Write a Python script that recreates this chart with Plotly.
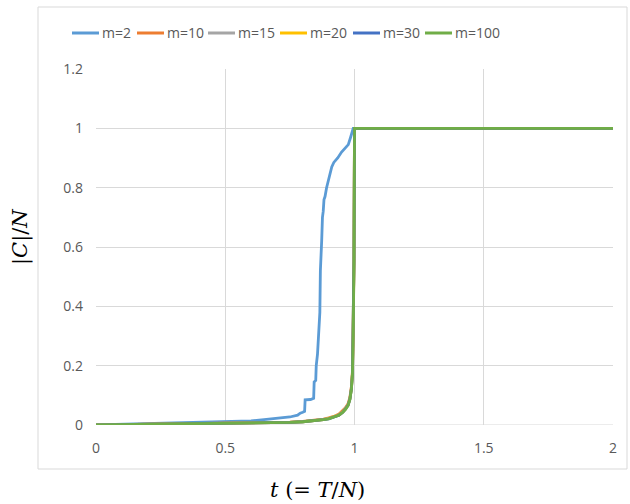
import plotly.graph_objects as go

# Giant-component fraction |C|/N versus normalised time t = T/N
t_m2 = [0.0, 0.1, 0.2, 0.3, 0.4, 0.5, 0.6, 0.65, 0.7, 0.75, 0.78, 0.79, 0.80, 0.807,
        0.809, 0.83, 0.842, 0.844, 0.85, 0.852, 0.857, 0.860, 0.863, 0.866, 0.868,
        0.870, 0.873, 0.876, 0.879, 0.882, 0.886, 0.892, 0.898, 0.905, 0.912, 0.92,
        0.935, 0.95, 0.965, 0.976, 0.985, 0.995, 1.0, 2.0]
c_m2 = [0.0, 0.002, 0.004, 0.006, 0.008, 0.010, 0.014, 0.018, 0.022, 0.027, 0.033, 0.040,
        0.043, 0.046, 0.085, 0.086, 0.090, 0.145, 0.150, 0.200, 0.240, 0.290, 0.370,
        0.380, 0.520, 0.610, 0.620, 0.700, 0.720, 0.760, 0.770, 0.800, 0.820, 0.840,
        0.870, 0.885, 0.900, 0.920, 0.935, 0.945, 0.970, 1.0, 1.0, 1.0]

t_big = [0.0, 0.1, 0.2, 0.3, 0.4, 0.5, 0.6, 0.7, 0.75, 0.8, 0.85, 0.88, 0.9, 0.92,
         0.94, 0.955, 0.965, 0.975, 0.982, 0.988, 0.992, 0.995, 0.998, 1.0, 2.0]
c_m10 = [0.0, 0.001, 0.002, 0.003, 0.004, 0.005, 0.007, 0.009, 0.010, 0.012, 0.016, 0.020,
         0.024, 0.029, 0.037, 0.048, 0.058, 0.072, 0.092, 0.13, 0.18, 0.31, 0.56, 1.0, 1.0]
c_m15 = [0.0, 0.001, 0.002, 0.003, 0.004, 0.005, 0.006, 0.008, 0.009, 0.011, 0.015, 0.019,
         0.022, 0.027, 0.034, 0.045, 0.055, 0.068, 0.088, 0.125, 0.175, 0.305, 0.555, 1.0, 1.0]
c_m20 = [0.0, 0.001, 0.002, 0.003, 0.004, 0.005, 0.006, 0.008, 0.009, 0.011, 0.014, 0.018,
         0.022, 0.027, 0.034, 0.044, 0.054, 0.067, 0.087, 0.122, 0.172, 0.302, 0.552, 1.0, 1.0]
c_m30 = [0.0, 0.001, 0.002, 0.003, 0.004, 0.005, 0.006, 0.008, 0.009, 0.011, 0.014, 0.018,
         0.021, 0.026, 0.033, 0.043, 0.053, 0.066, 0.086, 0.121, 0.171, 0.301, 0.551, 1.0, 1.0]
c_m100 = [0.0, 0.001, 0.002, 0.003, 0.004, 0.005, 0.006, 0.008, 0.009, 0.011, 0.014, 0.018,
          0.021, 0.026, 0.033, 0.043, 0.052, 0.065, 0.085, 0.120, 0.170, 0.300, 0.550, 1.0, 1.0]

series = [
    ("m=2", t_m2, c_m2, "#5B9BD5"),
    ("m=10", t_big, c_m10, "#ED7D31"),
    ("m=15", t_big, c_m15, "#A5A5A5"),
    ("m=20", t_big, c_m20, "#FFC000"),
    ("m=30", t_big, c_m30, "#4472C4"),
    ("m=100", t_big, c_m100, "#70AD47"),
]

x_ticks = [0, 0.5, 1, 1.5, 2]
x_tick_text = ["0", "0.5", "1", "1.5", "2"]
y_ticks = [0, 0.2, 0.4, 0.6, 0.8, 1.0, 1.2]
y_tick_text = ["0", "0.2", "0.4", "0.6", "0.8", "1", "1.2"]

fig = go.Figure()
for name, xs, ys, col in series:
    fig.add_trace(go.Scatter(x=xs, y=ys, name=name, mode="lines",
                             line=dict(color=col, width=2.8), showlegend=False))

W, H = 630, 504
L, R, T, B = 96, 17, 69, 79
pw, ph = W - L - R, H - T - B


def px_x(p):
    return (p - L) / pw


def px_y(p):
    return (H - B - p) / ph


tick_font = dict(family="Open Sans, Liberation Sans, sans-serif", size=14, color="#595959")

shapes = [
    dict(type="rect", xref="paper", yref="paper",
         x0=px_x(38), x1=px_x(627), y0=px_y(469), y1=px_y(7),
         line=dict(color="#D9D9D9", width=1), layer="below"),
    dict(type="line", xref="x", yref="y", x0=0, x1=2, y0=0, y1=0,
         line=dict(color="#D9D9D9", width=1), layer="below"),
]
annotations = [
    dict(text="<i>t</i> (= <i>T</i>/<i>N</i>)", xref="paper", yref="paper",
         x=px_x(317), y=px_y(490), xanchor="center", yanchor="middle", showarrow=False,
         font=dict(family="DejaVu Serif, serif", size=21, color="black")),
    dict(text="|<i>C</i>|/<i>N</i>", xref="paper", yref="paper",
         x=px_x(20), y=px_y(237), xanchor="center", yanchor="middle", showarrow=False,
         textangle=-90,
         font=dict(family="DejaVu Serif, serif", size=21, color="black")),
]

# Legend row along the top: a short coloured line followed by the series name
legend_y = 33
legend_x0 = [72, 137, 208, 280, 353, 425]
for (name, _, _, col), lx in zip(series, legend_x0):
    shapes.append(dict(type="line", xref="paper", yref="paper",
                       x0=px_x(lx), x1=px_x(lx + 27), y0=px_y(legend_y), y1=px_y(legend_y),
                       line=dict(color=col, width=3)))
    annotations.append(dict(text=name, xref="paper", yref="paper",
                            x=px_x(lx + 28), y=px_y(legend_y), xanchor="left", yanchor="middle",
                            showarrow=False,
                            font=dict(family="Open Sans, Liberation Sans, sans-serif",
                                      size=14, color="#595959")))

fig.update_layout(
    width=W, height=H,
    margin=dict(l=L, r=R, t=T, b=B),
    paper_bgcolor="white", plot_bgcolor="white",
    showlegend=False,
    xaxis=dict(range=[0, 2], tickvals=x_ticks, ticktext=x_tick_text, showgrid=True,
               gridcolor="#D9D9D9", gridwidth=1, zeroline=False, showline=False,
               ticks="", tickfont=tick_font, ticklabelstandoff=13),
    yaxis=dict(range=[0, 1.2], tickvals=y_ticks, ticktext=y_tick_text, showgrid=True,
               gridcolor="#D9D9D9", gridwidth=1, zeroline=False, showline=False,
               ticks="", tickfont=tick_font, ticklabelstandoff=12),
    shapes=shapes,
    annotations=annotations,
)

fig.write_html("out.html")
